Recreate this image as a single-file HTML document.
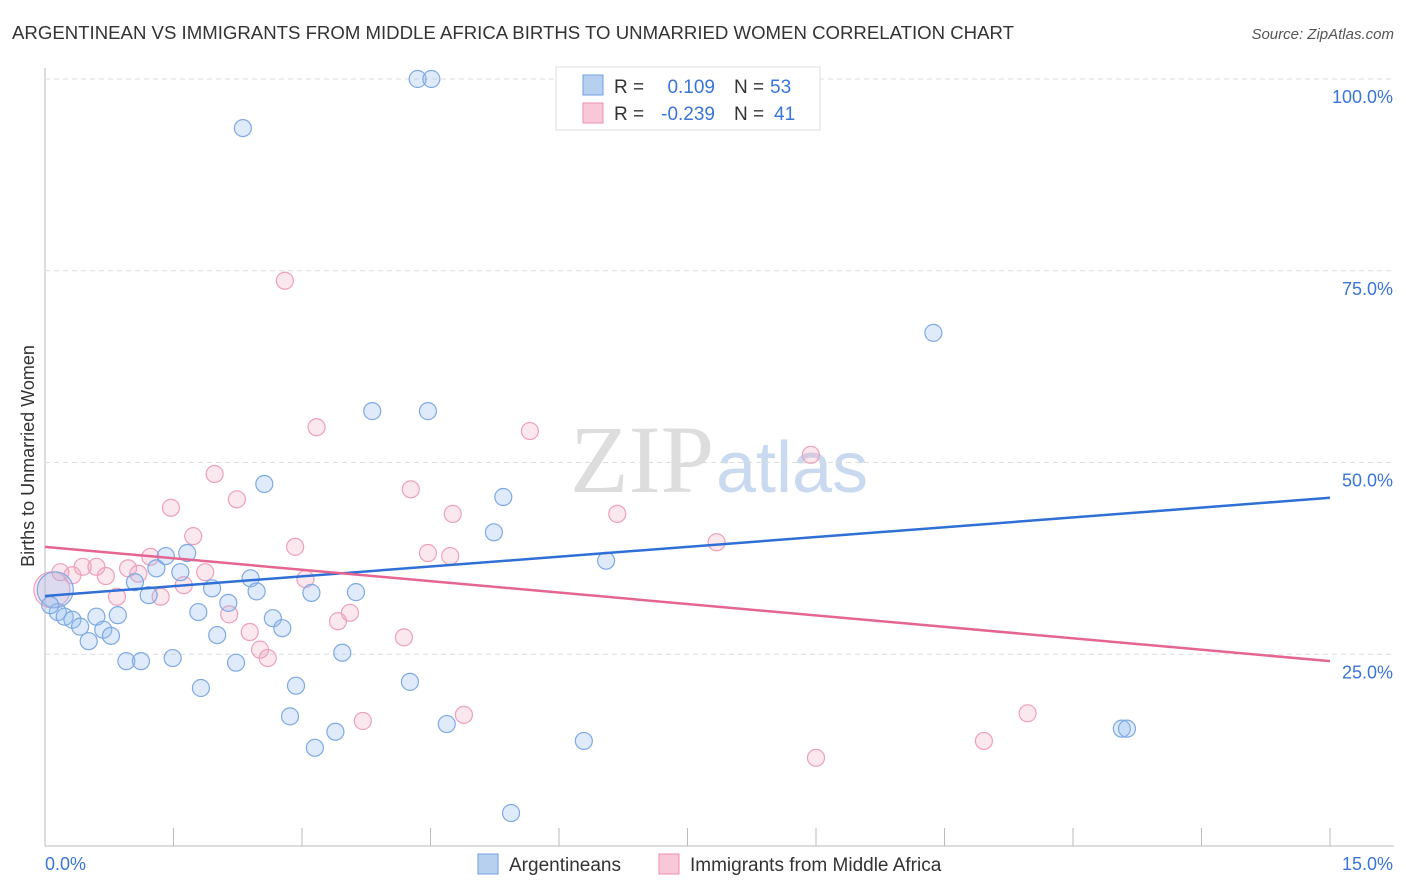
<!DOCTYPE html>
<html><head><meta charset="utf-8"><style>
body{margin:0;background:#fff;font-family:"Liberation Sans",sans-serif;}
svg{display:block}
</style></head><body>
<svg id="c" width="1406" height="892">
<text x="12" y="39" font-size="18" fill="#333" textLength="1002" lengthAdjust="spacingAndGlyphs">ARGENTINEAN VS IMMIGRANTS FROM MIDDLE AFRICA BIRTHS TO UNMARRIED WOMEN CORRELATION CHART</text>
<text x="1394" y="39" font-size="15" fill="#555" font-style="italic" text-anchor="end">Source: ZipAtlas.com</text>
<text x="714" y="492" font-size="96" fill="#ddd" font-family="Liberation Serif,serif" text-anchor="end">ZIP</text>
<text x="716" y="492" font-size="72" fill="#c9d9f0">atlas</text>
<text transform="translate(34,456) rotate(-90)" font-size="18" fill="#333" text-anchor="middle">Births to Unmarried Women</text>
<g id="grid"></g><g id="pts"></g><g id="lines"></g>
<g>
<rect x="556" y="67" width="264" height="63" fill="#fff" stroke="#ddd"/>
<rect x="583" y="75" width="20" height="20" fill="#b8d0f0" stroke="#6f9fe0"/>
<rect x="583" y="103" width="20" height="20" fill="#f8c8d8" stroke="#ec8fae"/>
<text x="614" y="93" font-size="19" fill="#333">R =</text>
<text x="715" y="93" font-size="19" fill="#3a75d8" text-anchor="end">0.109</text>
<text x="734" y="93" font-size="19" fill="#333">N =</text>
<text x="770" y="93" font-size="19" fill="#3a75d8">53</text>
<text x="614" y="120" font-size="19" fill="#333">R =</text>
<text x="715" y="120" font-size="19" fill="#3a75d8" text-anchor="end">-0.239</text>
<text x="734" y="120" font-size="19" fill="#333">N =</text>
<text x="774" y="120" font-size="19" fill="#3a75d8">41</text>
</g>
<g>
<rect x="478" y="854" width="20" height="20" fill="#b8d0f0" stroke="#6f9fe0"/>
<text x="509" y="871" font-size="19" fill="#333">Argentineans</text>
<rect x="659" y="854" width="20" height="20" fill="#f8c8d8" stroke="#ec8fae"/>
<text x="690" y="871" font-size="19" fill="#333">Immigrants from Middle Africa</text>
</g>
</svg>
<script>
const xTicks=[0,1.5,3,4.5,6,7.5,9,10.5,12,13.5,15];
const yTicks=[25,50,75,100];
const yTickLabels=["25.0%","50.0%","75.0%","100.0%"];
const xEndLabels=["0.0%","15.0%"];
const blueX=[0.12,0.15,0.23,0.32,0.41,0.51,0.60,0.68,0.77,0.85,0.95,1.12,1.05,1.21,1.30,1.41,1.49,1.58,1.66,1.79,1.82,1.95,2.01,2.14,2.23,2.31,2.40,2.47,2.56,2.66,2.77,2.86,2.93,3.11,3.15,3.39,3.47,3.63,3.82,4.26,4.35,4.51,4.47,4.69,5.24,5.35,5.44,6.29,6.55,10.37,12.57,12.63,0.06];
const blueY=[33.4,30.5,29.9,29.5,28.6,26.7,29.9,28.2,27.4,30.1,24.1,24.1,34.4,32.7,36.2,37.8,24.5,35.7,38.2,30.5,20.6,33.6,27.5,31.7,23.9,93.6,34.9,33.2,47.2,29.7,28.4,16.9,20.9,33.0,12.8,14.9,25.2,33.1,56.7,21.4,100,100,56.7,15.9,40.9,45.5,4.3,13.7,37.2,66.9,15.3,15.3,31.4];
const pinkX=[0.08,0.18,0.32,0.44,0.60,0.71,0.84,0.97,1.09,1.23,1.35,1.47,1.62,1.73,1.87,1.98,2.15,2.24,2.39,2.51,2.60,2.80,2.92,3.04,3.17,3.42,3.56,3.71,4.19,4.27,4.47,4.73,4.76,4.89,5.66,6.68,7.84,8.94,9.00,10.96,11.47];
const pinkY=[33.4,35.7,35.3,36.4,36.4,35.2,32.5,36.2,35.5,37.7,32.5,44.1,34.0,40.4,35.7,48.5,30.2,45.2,27.9,25.6,24.5,73.7,39.0,34.8,54.6,29.3,30.4,16.3,27.2,46.5,38.2,37.8,43.3,17.1,54.1,43.3,39.6,51.0,11.5,13.7,17.3];
const blueTrend=[32.6,45.4];
const pinkTrend=[39.0,24.1];
const X=v=>45+v/15*1285, Y=v=>846-v*7.67;
const NS="http://www.w3.org/2000/svg";
function mk(t,p,a){const e=document.createElementNS(NS,t);for(const k in a)e.setAttribute(k,a[k]);p.appendChild(e);return e;}
const g=document.getElementById('grid');
let ax=mk('line',g,{x1:45,y1:68,x2:45,y2:846,stroke:'#bbb'});


let bx=mk('line',g,{x1:45,y1:846,x2:1394,y2:846,stroke:'#bbb'});


xTicks.forEach(v=>{const t=mk('line',g,{x1:X(v),y1:828,x2:X(v),y2:846,stroke:'#bbb'});

});
yTicks.forEach((v,i)=>{const l=mk('line',g,{x1:45,y1:Y(v),x2:1394,y2:Y(v),stroke:'#ddd','stroke-dasharray':'5,4'});


const t=mk('text',g,{x:1393,y:Y(v)+24,'font-size':18,fill:'#3a75d8','text-anchor':'end'});t.textContent=yTickLabels[i];

});
const x0=mk('text',g,{x:45,y:870,'font-size':18,fill:'#3a75d8'});x0.textContent=xEndLabels[0];


const x1=mk('text',g,{x:1393,y:870,'font-size':18,fill:'#3a75d8','text-anchor':'end'});x1.textContent=xEndLabels[1];


const p=document.getElementById('pts');
pinkX.forEach((v,i)=>{const c=mk('circle',p,{cx:X(v),cy:Y(pinkY[i]),r:i==0?18:8.5,fill:'rgba(242,170,195,0.28)',stroke:'#eea0bb','stroke-width':1.2});

});
blueX.forEach((v,i)=>{const c=mk('circle',p,{cx:X(v),cy:Y(blueY[i]),r:i==0?18:8.5,fill:'rgba(150,188,238,0.3)',stroke:'#7ea9e4','stroke-width':1.2});

});
const L=document.getElementById('lines');
const bl=mk('line',L,{x1:X(0),y1:Y(blueTrend[0]),x2:X(15),y2:Y(blueTrend[1]),stroke:'#2f6fd6','stroke-width':2.5});


const pl=mk('line',L,{x1:X(0),y1:Y(pinkTrend[0]),x2:X(15),y2:Y(pinkTrend[1]),stroke:'#e56592','stroke-width':2.5});


</script>
</body></html>
